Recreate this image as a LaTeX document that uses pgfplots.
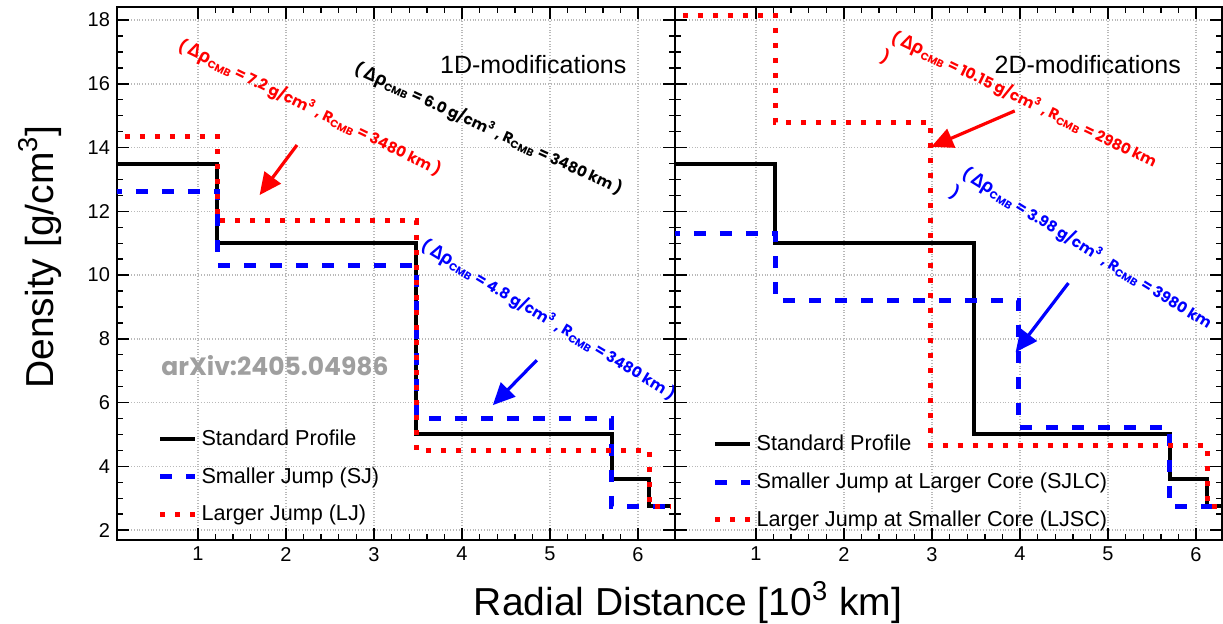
\documentclass[border=0pt]{standalone}
\usepackage{fontspec}
\setmainfont{Liberation Sans}
\newfontfamily\pop{Poppins}
\newfontfamily\grk{Open Sans}
\usepackage{pgfplots}
\pgfplotsset{compat=1.18}
\usetikzlibrary{arrows.meta}

% rotated annotation text
\newcommand{\ann}[2]{( {\grk\bfseries\fontsize{9.2}{9}\selectfont Δρ}\textsubscript{CMB} = #1 g/cm\textsuperscript{3} , R\textsubscript{CMB} = #2 km}

\pgfplotsset{
  panel/.style={
    scale only axis, height=266.5pt,
    ymin=1.69, ymax=18.41,
    xtick={1,...,6}, ytick={2,4,...,18},
    minor x tick num=4, minor y tick num=3,
    tick align=inside, major tick length=6pt, minor tick length=3pt,
    axis line style={line width=1.2pt},
    every tick/.style={black, line width=0.7pt},
    grid=major, major grid style={densely dotted, gray!55, line width=0.7pt},
    tick label style={font=\fontsize{10}{12}\selectfont},
    /pgf/number format/assume math mode=true,
    clip mode=individual,
    legend style={draw=none, fill=none, inner sep=0pt, row sep=5.5pt,
      font=\fontsize{10.8}{12}\selectfont},
    legend cell align=left,
    legend image code/.code={\draw[#1] (0pt,0pt) -- (17.5pt,0pt);},
  },
  std/.style={black, line width=2pt, const plot},
  sj/.style={blue, line width=2.5pt, dash pattern=on 6pt off 7pt, const plot},
  lj/.style={red, line width=2.5pt, dash pattern=on 2.5pt off 5pt, const plot},
}
\tikzset{
  note/.style={font=\pop\bfseries\fontsize{7.5}{9}\selectfont, inner sep=0pt},
  arr/.style={line width=1.6pt, -{Triangle[length=11pt,width=10pt]}},
}

\begin{document}
\begin{tikzpicture}
\useasboundingbox (-58.5pt,-42pt) rectangle (553pt,270pt);

\begin{axis}[panel, name=L, at={(0,0)}, anchor=south west,
  width=279pt, xmin=0.08, xmax=6.42,
  legend style={at={(axis description cs:0.072,0.215)}, anchor=north west}]
\addplot[std] coordinates {(0,13.5) (1.22,11) (3.48,5) (5.7,3.6) (6.13,2.75) (6.371,2.75)};
\addplot[sj] coordinates {(0,12.62) (1.22,10.3) (3.48,5.5) (5.7,2.75) (6.371,2.75)};
\addplot[lj] coordinates {(0,14.35) (1.22,11.7) (3.48,4.5) (6.13,2.75) (6.371,2.75)};
\legend{Standard Profile, Smaller Jump (SJ), Larger Jump (LJ)}
\node[font=\fontsize{12.5}{14}\selectfont] at (axis cs:4.81,16.59) {1D-modifications};
\node[note, red, rotate=-25.8] at (axis cs:2.27,15.24) {\ann{7.2}{3480} )};
\node[note, black, rotate=-24.5] at (axis cs:4.30,14.58) {\ann{6.0}{3480} )};
\node[note, blue, rotate=-31] at (axis cs:4.98,8.59) {\ann{4.8}{3480} )};
\draw[arr, red] (axis cs:2.125,14.08) -- (axis cs:1.70,12.51);
\draw[arr, blue] (axis cs:4.85,7.33) -- (axis cs:4.35,5.92);
\node[font=\pop\bfseries\fontsize{12.5}{14}\selectfont, gray!75] at (axis cs:1.875,7.15) {arXiv:2405.04986};
\end{axis}

\begin{axis}[panel, at={(279pt,0)}, anchor=south west,
  width=273.5pt, xmin=0.08, xmax=6.295, yticklabels={},
  legend style={at={(axis description cs:0.068,0.205)}, anchor=north west}]
\addplot[std] coordinates {(0,13.5) (1.22,11) (3.48,5) (5.7,3.6) (6.13,2.75) (6.371,2.75)};
\addplot[sj] coordinates {(0,11.3) (1.22,9.2) (3.98,5.22) (5.7,2.75) (6.371,2.75)};
\addplot[lj] coordinates {(0,18.15) (1.22,14.8) (2.98,4.65) (6.13,2.75) (6.371,2.75)};
\legend{Standard Profile, Smaller Jump at Larger Core (SJLC), Larger Jump at Smaller Core (LJSC)}
\node[font=\fontsize{12.5}{14}\selectfont] at (axis cs:4.77,16.59) {2D-modifications};
\node[note, red, rotate=-25.7] at (axis cs:4.045,15.49) {\ann{10.15}{2980}};
\node[note, red, rotate=-25.7] at (axis cs:2.47,16.84) {)};
\node[note, blue, rotate=-31.7] at (axis cs:4.76,10.82) {\ann{3.98}{3980}};
\node[note, blue, rotate=-31.7] at (axis cs:3.26,12.57) {)};
\draw[arr, red] (axis cs:3.94,15.15) -- (axis cs:2.99,14.02);
\draw[arr, blue] (axis cs:4.55,9.75) -- (axis cs:3.95,7.58);
\end{axis}

\node[rotate=90, font=\fontsize{19.5}{22}\selectfont] at (-38.5pt,141.5pt) {Density [g/cm\textsuperscript{3}]};
\node[font=\fontsize{19.5}{22}\selectfont] at (285.5pt,-31.5pt) {Radial Distance [10\textsuperscript{3} km]};
\end{tikzpicture}
\end{document}
